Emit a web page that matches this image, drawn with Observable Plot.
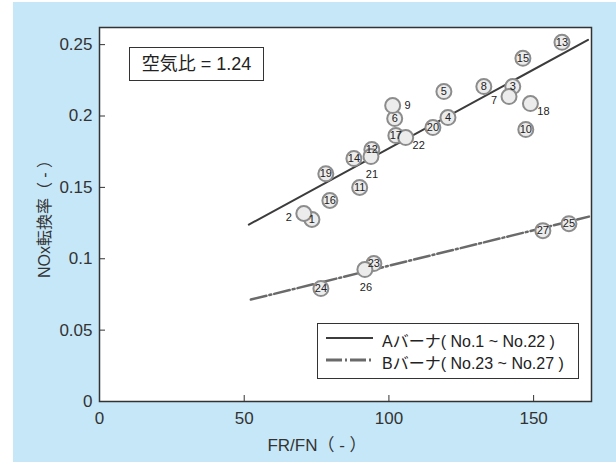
<!DOCTYPE html>
<html>
<head>
<meta charset="utf-8">
<script src="https://cdn.jsdelivr.net/npm/d3@7"></script>
<script src="https://cdn.jsdelivr.net/npm/@observablehq/plot@0.6"></script>
<style>
  html, body { margin: 0; padding: 0; background: #fff; }
  #wrap { position: relative; width: 616px; height: 462px; overflow: hidden;
          font-family: "Liberation Sans", Arial, "Noto Sans CJK JP", sans-serif; color: #333; }
  #bg { position: absolute; left: 13px; top: 2px; right: 0; bottom: 0; background: #c6e7f8; }
  #chart { position: absolute; left: 0; top: 0; }
  .box { position: absolute; background: #fff; border: 1px solid #333; box-sizing: border-box; }
  #ratio { left: 129px; top: 47px; width: 135px; height: 34px; font-size: 18px; line-height: 32px; text-align: center; color: #222; }
  #legend { left: 317px; top: 323px; width: 262px; height: 56px; }
  .lg { position: absolute; left: 64px; font-size: 16px; color: #222; white-space: nowrap; }
  #xlabel { position: absolute; left: 317px; top: 443px; transform: translate(-50%, -50%); font-size: 17px; color: #333; white-space: nowrap; }
  #ylabel { position: absolute; left: 43px; top: 215px; transform: translate(-50%, -50%) rotate(-90deg); font-size: 16px; color: #333; white-space: nowrap; }
</style>
</head>
<body>
<div id="wrap">
  <div id="bg"></div>
  <div id="chart"></div>
  <div id="ratio" class="box"></div>
  <div id="legend" class="box"></div>
  <div id="xlabel"></div>
  <div id="ylabel"></div>
</div>
<script>
// ---- data ----
const pointIds  = [1,2,3,4,5,6,7,8,9,10,11,12,13,14,15,16,17,18,19,20,21,22,23,24,25,26,27];
const frfn      = [73.4,70.6,142.8,120.4,119.0,102.0,141.5,132.8,101.3,147.3,89.9,94.1,159.8,87.9,146.3,79.6,102.4,148.9,78.2,115.2,93.8,105.8,94.8,76.5,162.2,91.7,153.2];
const noxRate   = [0.1275,0.1317,0.2206,0.1989,0.2171,0.1982,0.2136,0.2206,0.2073,0.1905,0.1499,0.1765,0.2516,0.1702,0.2404,0.1408,0.1863,0.2087,0.1595,0.1919,0.1716,0.1849,0.0966,0.0791,0.1246,0.0924,0.1197];
const labelSide = ["in","left","in","in","in","in","left","in","right","in","in","in","in","in","in","in","in","rightbelow","in","in","below","rightbelow","in","in","in","below","in"];

const lineAx = [51.6, 168.8];
const lineAy = [0.1239, 0.2533];
const lineBx = [52.3, 169.1];
const lineBy = [0.0714, 0.1295];

const xTicks = [0, 50, 100, 150];
const yTicks = [0, 0.05, 0.1, 0.15, 0.2, 0.25];
const yTickLabels = ["0", "0.05", "0.1", "0.15", "0.2", "0.25"];

const xLabel = "FR/FN（ - ）";
const yLabel = "NOx転換率（ - ）";
const ratioText = "空気比 = 1.24";
const legendA = "Aバーナ( No.1 ~ No.22 )";
const legendB = "Bバーナ( No.23 ~ No.27 )";

// ---- build tables ----
const points = pointIds.map((id, i) => ({id, x: frfn[i], y: noxRate[i], side: labelSide[i]}));
const lineA = lineAx.map((x, i) => ({x, y: lineAy[i]}));
const lineB = lineBx.map((x, i) => ({x, y: lineBy[i]}));

const offsets = {in: [0, 0], left: [-15, 4], right: [15, 0], rightbelow: [13, 8], below: [1, 18]};

const font = `"Liberation Sans", Arial, "Noto Sans CJK JP", sans-serif`;

const plot = Plot.plot({
  width: 616, height: 462,
  marginLeft: 99, marginRight: 25, marginTop: 27, marginBottom: 61,
  style: {background: "transparent", fontFamily: font, color: "#333", overflow: "visible"},
  x: {domain: [0, 170]},
  y: {domain: [0, 0.262]},
  marks: [
    Plot.frame({fill: "white", stroke: null}),
    Plot.line(lineA, {x: "x", y: "y", stroke: "#3c3c3c", strokeWidth: 2}),
    Plot.line(lineB, {x: "x", y: "y", stroke: "#6a6a6a", strokeWidth: 2.5, strokeDasharray: "16,3,2,3"}),
    Plot.dot(points, {x: "x", y: "y", r: 7.5, fill: "#ececec", stroke: "#8c8c8c", strokeWidth: 2}),
    ...Object.keys(offsets).map(side =>
      Plot.text(points.filter(d => d.side === side), {
        x: "x", y: "y", text: d => String(d.id),
        dx: offsets[side][0], dy: offsets[side][1],
        fontSize: 11, fill: "#222"
      })
    ),
    Plot.axisY({ticks: yTicks, tickFormat: d => yTickLabels[yTicks.indexOf(d)], tickSize: -6, tickPadding: 13,
                fontSize: 17, label: null, stroke: "#333"}),
    Plot.axisX({ticks: xTicks, tickFormat: d => String(d), tickSize: -6, tickPadding: 16,
                fontSize: 17, label: null, stroke: "#333"}),
    Plot.frame({stroke: "#333", strokeWidth: 1.5})
  ]
});
document.getElementById("chart").appendChild(plot);

// annotations
document.getElementById("ratio").textContent = ratioText;
document.getElementById("xlabel").textContent = xLabel;
document.getElementById("ylabel").textContent = yLabel;
const lg = document.getElementById("legend");
lg.innerHTML = `
  <svg width="60" height="54" style="position:absolute;left:0;top:0">
    <line x1="8" x2="55" y1="14" y2="14" stroke="#3c3c3c" stroke-width="2"/>
    <line x1="8" x2="55" y1="36" y2="36" stroke="#6a6a6a" stroke-width="3" stroke-dasharray="16,3,2,3"/>
  </svg>
  <div class="lg" style="top:4px">${legendA}</div>
  <div class="lg" style="top:26px">${legendB}</div>`;
</script>
</body>
</html>
